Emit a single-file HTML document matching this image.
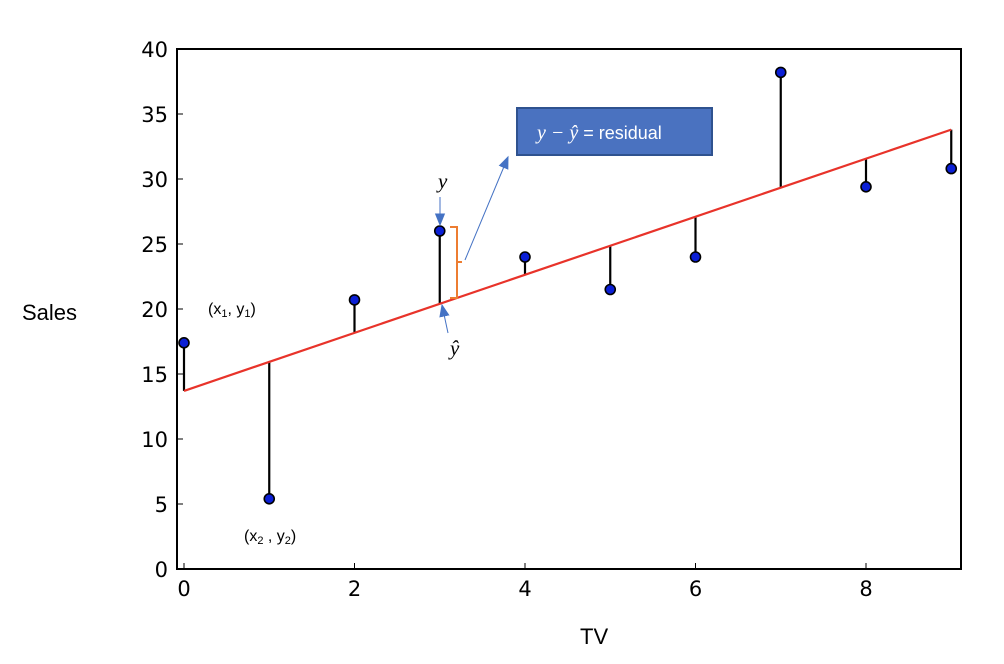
<!DOCTYPE html>
<html><head><meta charset="utf-8"><style>
body{margin:0;background:#fff;}
svg{display:block;font-family:"DejaVu Sans","Liberation Sans",sans-serif;}
</style></head><body>
<svg id="chart" width="1004" height="664" viewBox="0 0 1004 664">
<g id="axes"></g>
<g id="marks"></g>
<g id="annot"></g>
</svg>
<script>
const xs = [0,1,2,3,4,5,6,7,8,9];
const ys = [17.4,5.4,20.7,26,24,21.5,24,38.2,29.4,30.8];
const fitIntercept = 13.7;
const fitSlope = 2.233;
const xTicks = [0,2,4,6,8];
const yTicks = [0,5,10,15,20,25,30,35,40];
const NS='http://www.w3.org/2000/svg';
const L=177,R=961,T=49,B=569;
const sx=v=>184+v*85.25;
const sy=v=>B-(v/40)*(B-T);
function mk(tag,attrs,parent,text){const e=document.createElementNS(NS,tag);for(const k in attrs)e.setAttribute(k,attrs[k]);if(text!==undefined)e.textContent=text;parent.appendChild(e);return e;}
const ax=document.getElementById('axes'),mg=document.getElementById('marks'),an=document.getElementById('annot');
const frame=mk('rect',{x:L,y:T,width:R-L,height:B-T,fill:'none',stroke:'#000','stroke-width':2},ax);


yTicks.forEach(t=>{
  const y=sy(t);
  const tk=mk('line',{x1:L,x2:L+6,y1:y,y2:y,stroke:'#000','stroke-width':1},ax);
  
  
  const lb=mk('text',{x:L-9,y:y+8,'text-anchor':'end','font-size':21},ax,String(t));
  
  
});
xTicks.forEach(t=>{
  const x=sx(t);
  const tk=mk('line',{x1:x,x2:x,y1:B,y2:B-6,stroke:'#000','stroke-width':1},ax);
  
  
  const lb=mk('text',{x:x,y:B+27,'text-anchor':'middle','font-size':21},ax,String(t));
  
  
});
const yt=mk('text',{x:22,y:320,'font-size':22,'font-family':'Liberation Sans, sans-serif'},ax,'Sales');


const xt=mk('text',{x:580,y:644,'font-size':22,'font-family':'Liberation Sans, sans-serif'},ax,'TV');


xs.forEach((x,i)=>{
  const yh=fitIntercept+fitSlope*x;
  const s=mk('line',{x1:sx(x),x2:sx(x),y1:sy(ys[i]),y2:sy(yh),stroke:'#000','stroke-width':2.2},mg);
  
  
});
const fl=mk('line',{x1:sx(0),y1:sy(fitIntercept),x2:sx(9),y2:sy(fitIntercept+fitSlope*9),stroke:'#e8332a','stroke-width':2.2},mg);


xs.forEach((x,i)=>{
  const c=mk('circle',{cx:sx(x),cy:sy(ys[i]),r:5,fill:'#0b1fd6',stroke:'#000','stroke-width':1.6},mg);
  
  
});
</script>
<svg style="position:absolute;left:0;top:0" width="1004" height="664">
<defs><marker id="ah" viewBox="0 0 10 10" refX="9" refY="5" markerUnits="userSpaceOnUse" markerWidth="13" markerHeight="13" orient="auto"><path d="M0,1L10,5L0,9z" fill="#4472c4"/></marker></defs>
<rect x="517" y="108" width="195" height="47" fill="#4a72c0" stroke="#2f528f" stroke-width="2"/>
<text x="537" y="139" font-size="18" fill="#fff" font-family="Liberation Sans, sans-serif"><tspan font-style="italic" font-family="Liberation Serif, serif" font-size="20">y − ŷ</tspan> = residual</text>
<line x1="465" y1="260" x2="508" y2="157" stroke="#4472c4" stroke-width="1" marker-end="url(#ah)"/>
<line x1="440" y1="197" x2="440" y2="225" stroke="#4472c4" stroke-width="1" marker-end="url(#ah)"/>
<line x1="448" y1="333" x2="442" y2="305" stroke="#4472c4" stroke-width="1" marker-end="url(#ah)"/>
<text x="438" y="188" font-size="21" font-style="italic" font-family="Liberation Serif, serif">y</text>
<text x="450" y="355" font-size="21" font-style="italic" font-family="Liberation Serif, serif">ŷ</text>
<path d="M450,227 H457 V298 H450 M457,262 H462" fill="none" stroke="#ed7d31" stroke-width="2"/>
<text x="208" y="314" font-size="16" font-family="Liberation Sans, sans-serif">(x<tspan font-size="11" dy="3">1</tspan><tspan dy="-3">, y</tspan><tspan font-size="11" dy="3">1</tspan><tspan dy="-3">)</tspan></text>
<text x="244" y="541" font-size="16" font-family="Liberation Sans, sans-serif">(x<tspan font-size="11" dy="3">2</tspan><tspan dy="-3"> , y</tspan><tspan font-size="11" dy="3">2</tspan><tspan dy="-3">)</tspan></text>
</svg>
</body></html>
